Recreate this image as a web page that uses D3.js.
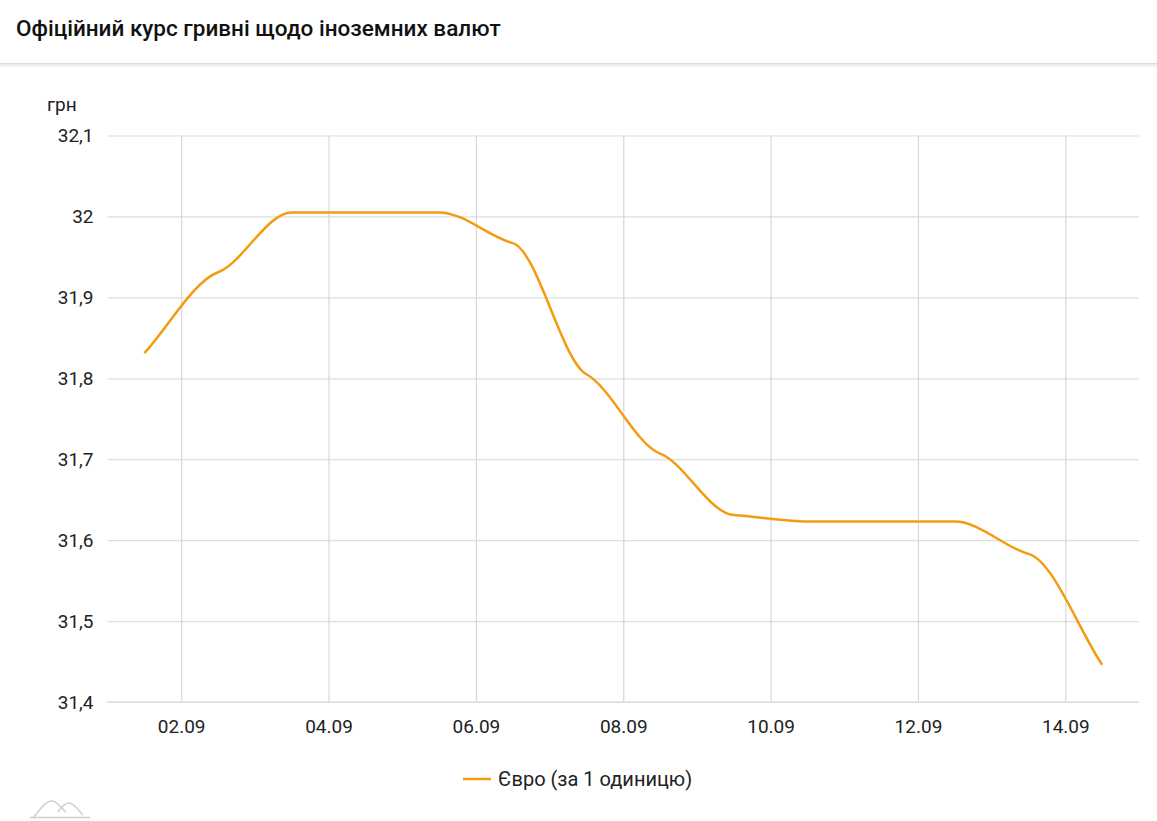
<!DOCTYPE html>
<html>
  <head>
    <meta charset="utf-8" />
    <script src="https://d3js.org/d3.v7.min.js"></script>
    <style>
      body { margin: 0; background: #fff; font-family: Roboto, sans-serif; }
    </style>
  </head>
  <body>
    <svg id="viz"></svg>
    <script>
      var width = 1157, height = 821;

      // data
      var dates = ["01.09", "02.09", "03.09", "04.09", "05.09", "06.09", "07.09",
                   "08.09", "09.09", "10.09", "11.09", "12.09", "13.09", "14.09"];
      var euro = [31.831, 31.931, 32.005, 32.005, 32.005, 31.967, 31.805,
                  31.707, 31.631, 31.623, 31.623, 31.623, 31.583, 31.446];
      var yTicks = [31.4, 31.5, 31.6, 31.7, 31.8, 31.9, 32, 32.1];
      var title = "Офіційний курс гривні щодо іноземних валют";
      var seriesName = "Євро (за 1 одиницю)";
      var unit = "грн";

      var parse = d3.timeParse("%d.%m.%Y %H");
      var points = dates.map(function(d, i) {
        return { date: parse(d + ".2021 12"), value: euro[i] };
      });

      // soft hermite curve: tangents are damped so the line eases at each point
      function SoftCurve(context) { this._context = context; }
      SoftCurve.prototype = {
        areaStart: function() { this._line = 0; },
        areaEnd: function() { this._line = NaN; },
        lineStart: function() { this._xs = []; this._ys = []; },
        point: function(x, y) { this._xs.push(+x); this._ys.push(+y); },
        lineEnd: function() {
          var xs = this._xs, ys = this._ys, n = xs.length, c = this._context, k = 0.4;
          if (!n) return;
          var s = [], m = [];
          for (var i = 0; i < n - 1; i++) s.push((ys[i + 1] - ys[i]) / (xs[i + 1] - xs[i]));
          for (i = 0; i < n; i++) {
            if (i === 0) m.push(s[0]);
            else if (i === n - 1) m.push(s[n - 2]);
            else if (s[i - 1] * s[i] <= 0) m.push(0);
            else m.push(k * 2 / (1 / s[i - 1] + 1 / s[i]));
          }
          c.moveTo(xs[0], ys[0]);
          for (i = 0; i < n - 1; i++) {
            var dx = (xs[i + 1] - xs[i]) / 3;
            c.bezierCurveTo(xs[i] + dx, ys[i] + m[i] * dx,
                            xs[i + 1] - dx, ys[i + 1] - m[i + 1] * dx,
                            xs[i + 1], ys[i + 1]);
          }
        }
      };
      function curveSoft(context) { return new SoftCurve(context); }

      var svg = d3.select("#viz").attr("width", width).attr("height", height);

      // header
      var defs = svg.append("defs");
      var grad = defs.append("linearGradient").attr("id", "shadow")
          .attr("x1", 0).attr("y1", 0).attr("x2", 0).attr("y2", 1);
      grad.append("stop").attr("offset", 0).attr("stop-color", "#000").attr("stop-opacity", 0.12);
      grad.append("stop").attr("offset", 1).attr("stop-color", "#000").attr("stop-opacity", 0);
      svg.append("rect").attr("x", 0).attr("y", 63).attr("width", width).attr("height", 5)
          .attr("fill", "url(#shadow)");
      svg.append("line").attr("x1", 0).attr("x2", width).attr("y1", 63.5).attr("y2", 63.5)
          .attr("stroke", "#dcdcdc");
      svg.append("text").attr("x", 16).attr("y", 36)
          .attr("font-size", 22.5).attr("font-weight", 500).attr("fill", "#111")
          .text(title);

      var margin = { left: 107.5, right: 18, top: 135.5, bottom: 119 };

      var x = d3.scaleTime()
          .domain([parse("01.09.2021 0"), parse("15.09.2021 0")])
          .range([margin.left, width - margin.right]);
      var y = d3.scaleLinear()
          .domain([31.4, 32.1])
          .range([height - margin.bottom, margin.top]);

      var fmtY = function(d) { return d3.format("~g")(d).replace(".", ","); };

      // y grid
      var yAxis = svg.append("g")
          .attr("transform", "translate(" + margin.left + ",0)")
          .call(d3.axisLeft(y).tickValues(yTicks).tickFormat(fmtY)
                .tickSize(-(width - margin.left - margin.right)).tickPadding(14));
      yAxis.select(".domain").remove();
      yAxis.selectAll("line").attr("stroke", "#dedede").attr("stroke-width", 1.2);
      yAxis.selectAll("text").attr("font-size", 19).attr("font-family", "Roboto")
          .attr("fill", "#222");

      // x grid
      var xTicks = d3.range(2, 15, 2).map(function(d) {
        return parse(d3.format("02")(d) + ".09.2021 0");
      });
      var xAxis = svg.append("g")
          .attr("transform", "translate(0," + (height - margin.bottom) + ")")
          .call(d3.axisBottom(x).tickValues(xTicks).tickFormat(d3.timeFormat("%d.%m"))
                .tickSize(-(height - margin.top - margin.bottom)).tickPadding(18));
      xAxis.select(".domain").remove();
      xAxis.selectAll("line").attr("stroke", "#d8d8d8").attr("stroke-width", 1.2);
      xAxis.selectAll("text").attr("font-size", 19).attr("font-family", "Roboto")
          .attr("fill", "#222");

      svg.append("line")
          .attr("x1", margin.left).attr("x2", width - margin.right)
          .attr("y1", height - margin.bottom).attr("y2", height - margin.bottom)
          .attr("stroke", "#dedede").attr("stroke-width", 1.5);

      svg.append("text").attr("x", 47).attr("y", 111)
          .attr("font-size", 19).attr("fill", "#222").text(unit);

      // line
      var line = d3.line()
          .x(function(d) { return x(d.date); })
          .y(function(d) { return y(d.value); })
          .curve(curveSoft);
      svg.append("path").datum(points)
          .attr("d", line)
          .attr("fill", "none")
          .attr("stroke", "#f39c12")
          .attr("stroke-width", 2.5);

      // legend
      var lg = svg.append("g").attr("transform", "translate(463,779)");
      lg.append("line").attr("x1", 0).attr("x2", 28).attr("y1", 0).attr("y2", 0)
          .attr("stroke", "#f39c12").attr("stroke-width", 2.5);
      lg.append("text").attr("x", 35).attr("y", 7)
          .attr("font-size", 20).attr("fill", "#222").text(seriesName);

      // logo
      var logo = svg.append("g").attr("fill", "none").attr("stroke", "#cfcfcf")
          .attr("stroke-width", 1.6);
      logo.append("path").attr("d", "M34,817 C40,809 46,801 52,801 C58,801 62,810 66,812");
      logo.append("path").attr("d", "M58,812 C62,806 65,803 69,803 C74,803 78,810 83,815");
      logo.append("line").attr("x1", 30).attr("x2", 90).attr("y1", 817.5).attr("y2", 817.5);
    </script>
  </body>
</html>
